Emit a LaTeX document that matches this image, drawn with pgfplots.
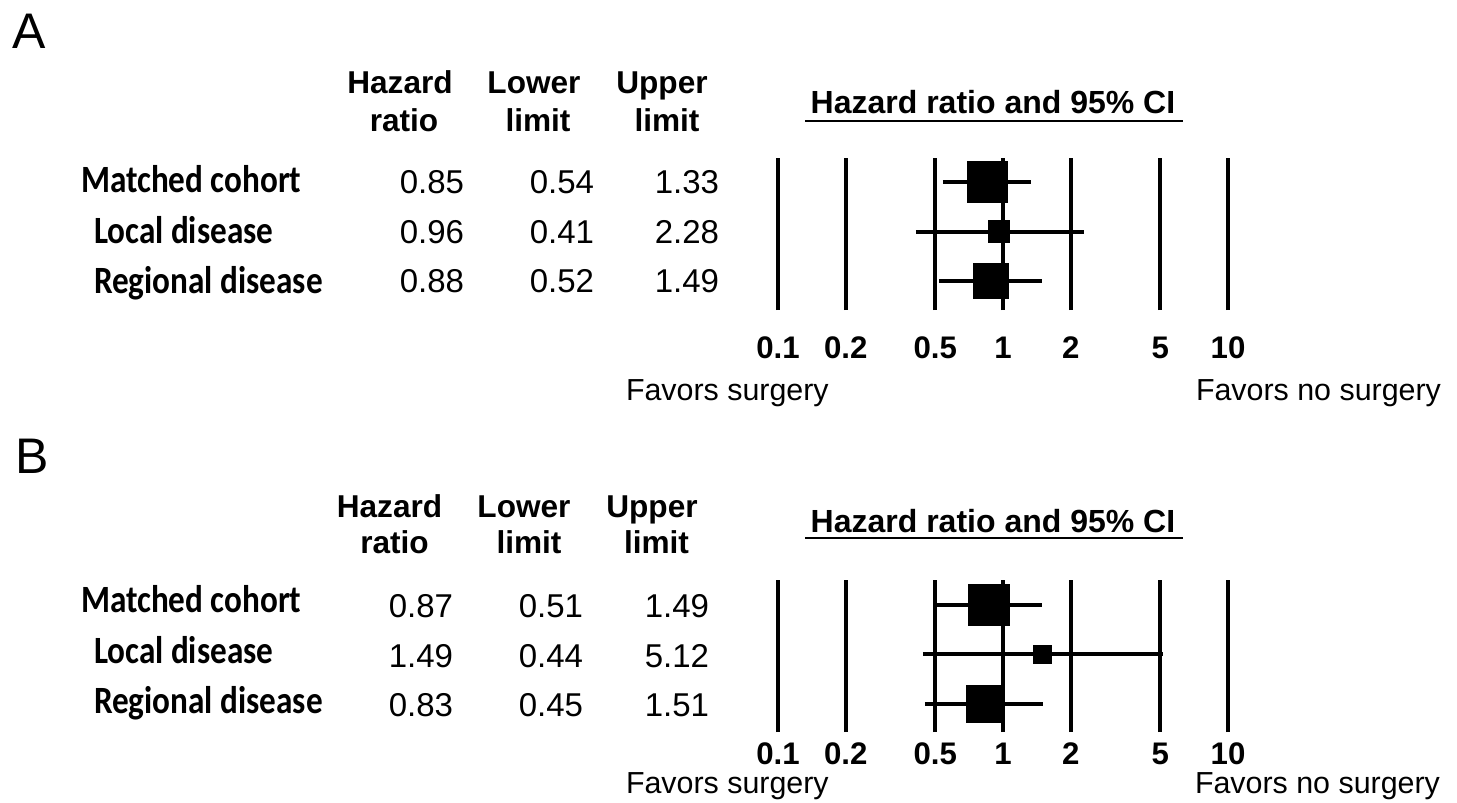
\documentclass[border=0pt]{standalone}
\usepackage{fontspec}
\usepackage{pgfplots}
\pgfplotsset{compat=1.18}
\setmainfont{Liberation Sans}
\newfontfamily\condfont[FakeStretch=0.86]{Carlito}
\newcommand{\rowfont}{\condfont\bfseries\fontsize{19.3}{21}\selectfont}
\newcommand{\headfont}{\bfseries\fontsize{15.8}{18}\selectfont}
\newcommand{\titlefont}{\bfseries\fontsize{16}{18}\selectfont}
\newcommand{\valfont}{\fontsize{16.5}{19}\selectfont}
\newcommand{\tickfont}{\bfseries\fontsize{15.6}{18}\selectfont}
\newcommand{\favfont}{\fontsize{15.2}{17}\selectfont}
\newcommand{\panelfont}{\fontsize{25}{28}\selectfont}

\tikzset{ci/.style={black, line width=2pt, line cap=butt}}

\begin{document}
\begin{tikzpicture}[x=0.5pt,y=-0.5pt]
\useasboundingbox (0,0) rectangle (1457,803);

% ---------------- Panel A ----------------
\begin{axis}[xmode=log, xmin=0.1, xmax=10,
  scale only axis, width=225pt, height=76pt,
  axis line style={draw=none}, major tick style={draw=none},
  ytick=\empty,
  xtick={0.1,0.2,0.5,1,2,5,10},
  xticklabels={0.1,0.2,0.5,1,2,5,10},
  xmajorgrids, grid style={black, line width=1.9pt},
  clip=false, anchor=south west,
  at={(389pt,-155pt)}, ymin=0.414, ymax=3.485,
  xticklabel style={font=\tickfont, anchor=base, inner sep=0pt, text depth=0pt, yshift=-24pt}]
\addplot[ci] coordinates {(0.54,3) (1.33,3)};
\addplot[ci] coordinates {(0.41,2) (2.28,2)};
\addplot[ci] coordinates {(0.52,1) (1.49,1)};
\addplot[only marks, mark=square*, mark options={fill=black, draw=none}, mark size=10.1pt] coordinates {(0.85,3)};
\addplot[only marks, mark=square*, mark options={fill=black, draw=none}, mark size=5.4pt] coordinates {(0.96,2)};
\addplot[only marks, mark=square*, mark options={fill=black, draw=none}, mark size=8.75pt] coordinates {(0.88,1)};
\end{axis}

% ---------------- Panel B ----------------
\begin{axis}[xmode=log, xmin=0.1, xmax=10,
  scale only axis, width=225pt, height=76pt,
  axis line style={draw=none}, major tick style={draw=none},
  ytick=\empty,
  xtick={0.1,0.2,0.5,1,2,5,10},
  xticklabels={0.1,0.2,0.5,1,2,5,10},
  xmajorgrids, grid style={black, line width=1.9pt},
  clip=false, anchor=south west,
  at={(389pt,-366pt)}, ymin=0.434, ymax=3.505,
  xticklabel style={font=\tickfont, anchor=base, inner sep=0pt, text depth=0pt, yshift=-16pt}]
\addplot[ci] coordinates {(0.51,3) (1.49,3)};
\addplot[ci] coordinates {(0.44,2) (5.12,2)};
\addplot[ci] coordinates {(0.45,1) (1.51,1)};
\addplot[only marks, mark=square*, mark options={fill=black, draw=none}, mark size=10.25pt] coordinates {(0.87,3)};
\addplot[only marks, mark=square*, mark options={fill=black, draw=none}, mark size=4.5pt] coordinates {(1.49,2)};
\addplot[only marks, mark=square*, mark options={fill=black, draw=none}, mark size=9.25pt] coordinates {(0.83,1)};
\end{axis}

\begin{scope}[every node/.style={inner sep=0pt, outer sep=0pt}]
% Panel letters
\node[anchor=base west, font=\panelfont] at (12,48) {A};
\node[anchor=base west, font=\panelfont] at (16,473) {B};

% ---- A table ----
\node[anchor=base, font=\headfont] at (400,93) {Hazard};
\node[anchor=base, font=\headfont] at (404,131) {ratio};
\node[anchor=base, font=\headfont] at (534,93) {Lower};
\node[anchor=base, font=\headfont] at (538,131) {limit};
\node[anchor=base, font=\headfont] at (662,93) {Upper};
\node[anchor=base, font=\headfont] at (667,131) {limit};

\node[anchor=base west, font=\rowfont] at (81,192) {Matched cohort};
\node[anchor=base west, font=\rowfont] at (94,243) {Local disease};
\node[anchor=base west, font=\rowfont] at (94,293) {Regional disease};

\node[anchor=base east, font=\valfont] at (464,193) {0.85};
\node[anchor=base east, font=\valfont] at (464,243) {0.96};
\node[anchor=base east, font=\valfont] at (464,292) {0.88};
\node[anchor=base east, font=\valfont] at (594,193) {0.54};
\node[anchor=base east, font=\valfont] at (594,243) {0.41};
\node[anchor=base east, font=\valfont] at (594,292) {0.52};
\node[anchor=base east, font=\valfont] at (719,193) {1.33};
\node[anchor=base east, font=\valfont] at (719,243) {2.28};
\node[anchor=base east, font=\valfont] at (719,292) {1.49};

\node[anchor=base, font=\titlefont] at (993,113) {Hazard ratio and 95\% CI};
\draw[line width=1pt] (805,121) -- (1183,121);
\node[anchor=base west, font=\favfont] at (626,400) {Favors surgery};
\node[anchor=base west, font=\favfont] at (1196,400) {Favors no surgery};

% ---- B table ----
\node[anchor=base, font=\headfont] at (389.5,517) {Hazard};
\node[anchor=base, font=\headfont] at (394.5,553) {ratio};
\node[anchor=base, font=\headfont] at (524,517) {Lower};
\node[anchor=base, font=\headfont] at (529,553) {limit};
\node[anchor=base, font=\headfont] at (652,517) {Upper};
\node[anchor=base, font=\headfont] at (656.5,553) {limit};

\node[anchor=base west, font=\rowfont] at (81,612) {Matched cohort};
\node[anchor=base west, font=\rowfont] at (94,663) {Local disease};
\node[anchor=base west, font=\rowfont] at (94,713) {Regional disease};

\node[anchor=base east, font=\valfont] at (453,617) {0.87};
\node[anchor=base east, font=\valfont] at (453,667) {1.49};
\node[anchor=base east, font=\valfont] at (453,716) {0.83};
\node[anchor=base east, font=\valfont] at (583,617) {0.51};
\node[anchor=base east, font=\valfont] at (583,667) {0.44};
\node[anchor=base east, font=\valfont] at (583,716) {0.45};
\node[anchor=base east, font=\valfont] at (709,617) {1.49};
\node[anchor=base east, font=\valfont] at (709,667) {5.12};
\node[anchor=base east, font=\valfont] at (709,716) {1.51};

\node[anchor=base, font=\titlefont] at (993,532) {Hazard ratio and 95\% CI};
\draw[line width=1pt] (805,538) -- (1183,538);
\node[anchor=base west, font=\favfont, text height=11pt] at (626,793) {Favors surgery};
\node[anchor=base west, font=\favfont, text height=11pt] at (1195,793) {Favors no surgery};
\end{scope}
\end{tikzpicture}
\end{document}
